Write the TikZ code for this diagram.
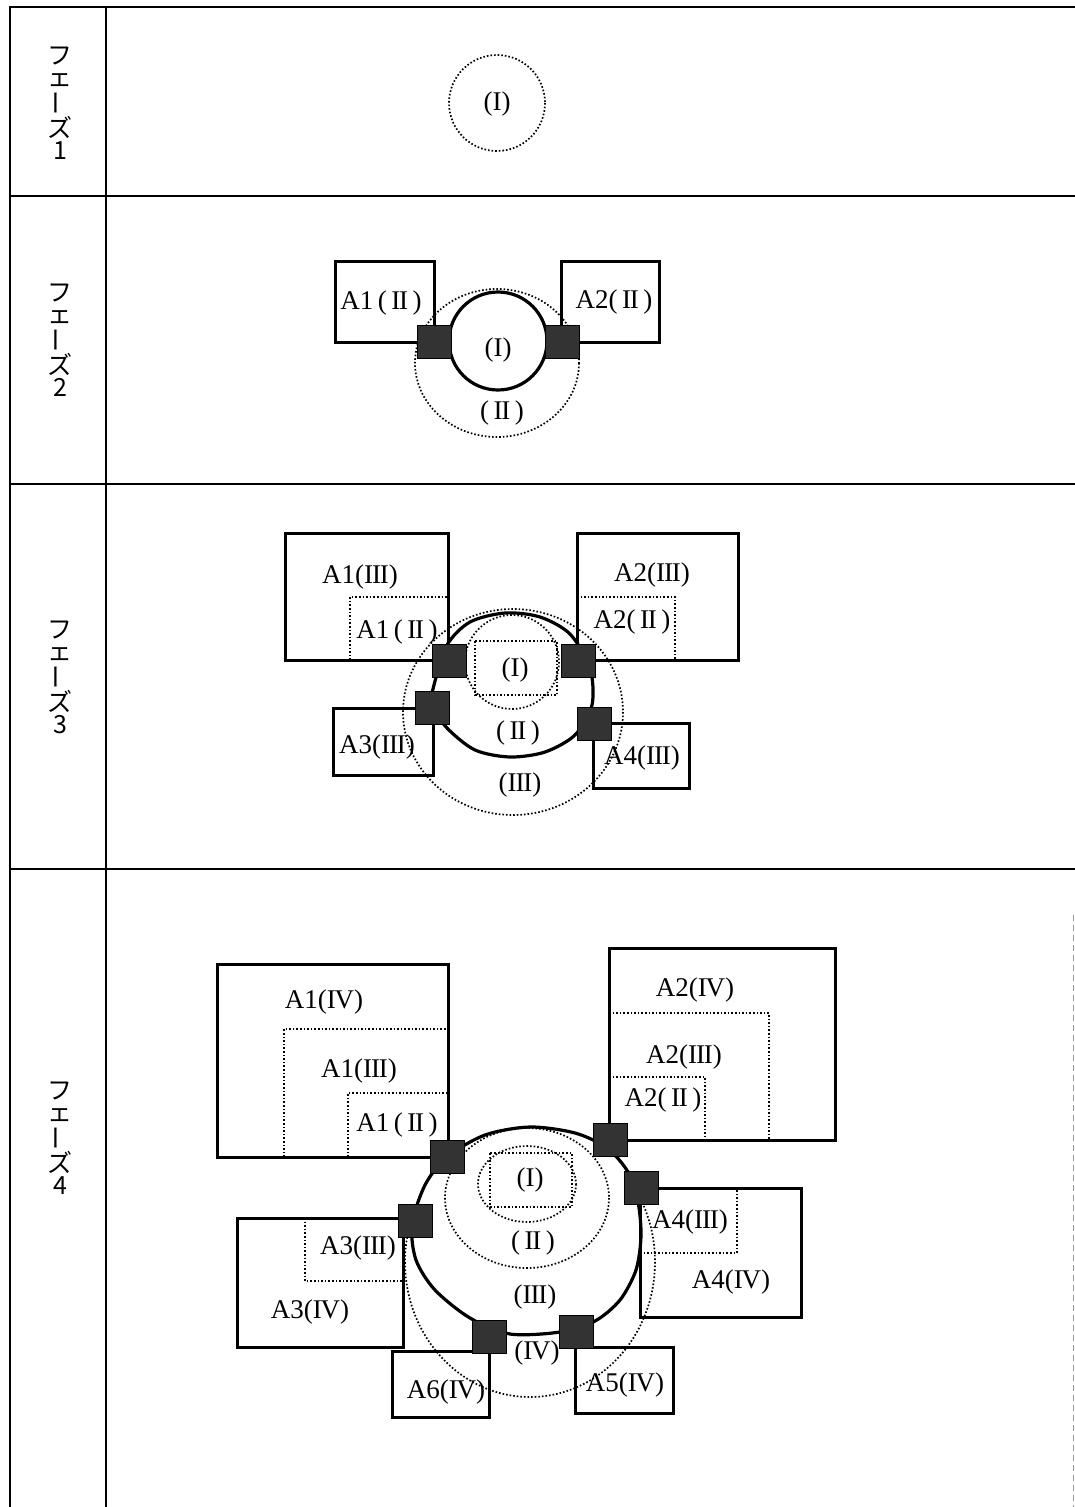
\documentclass[tikz,border=0pt]{standalone}
\usepackage{fontspec}
\setmainfont{Liberation Serif}
\newfontfamily\cjk{Noto Sans CJK JP}
\newcommand\rI{I}
\newcommand\rII{I\kern-.04em I}
\newcommand\rIII{I\kern-.04em I\kern-.04em I}
\newcommand\rIV{I\kern-.05em V}
\newcommand\vbar{\rotatebox[origin=c]{90}{ー}}

\begin{document}
\begin{tikzpicture}[x=1pt,y=-1pt, every node/.style={inner sep=0pt}]
\tikzset{
  tablerule/.style={draw=black, line width=1.6pt},
  abox/.style={draw=black, line width=3pt},
  dotline/.style={draw=black, line width=1.7pt, dash pattern=on 1.6pt off 2pt},
  ring/.style={draw=black, line width=3.2pt, fill=white},
  joint/.style={draw=black, fill=black!80, line width=1pt, minimum width=34pt, minimum height=33pt},
  lbl/.style={font=\fontsize{27}{29}\selectfont},
  phase/.style={font=\cjk\fontsize{25}{22}\selectfont, align=center}
}
\useasboundingbox (0,0) rectangle (1075,1507);
\draw[tablerule] (10,1507) -- (10,7) -- (1075,7);
\draw[tablerule] (106,7) -- (106,1507);
\foreach \yy in {196,484,869} \draw[tablerule] (10,\yy) -- (1075,\yy);
\draw[draw=black!40, line width=0.8pt, dash pattern=on 6pt off 4pt] (1073.5,915) -- (1073.5,1507);
\node[phase] (ph1) at (60,103) {フ\\ェ\\\vbar\\ズ\\1};
\node[phase] (ph2) at (60,340) {フ\\ェ\\\vbar\\ズ\\2};
\node[phase] (ph3) at (60,677) {フ\\ェ\\\vbar\\ズ\\3};
\node[phase] (ph4) at (60,1138) {フ\\ェ\\\vbar\\ズ\\4};
% phase 1
\draw[dotline] (497,103) circle[radius=48];
\node[lbl] (p1i) at (497,104) {(\rI)};
% phase 2
\draw[dotline] (497,363) ellipse[x radius=82, y radius=74];
\draw[ring] (498,341) circle[radius=49];
\draw[abox] (335,261) rectangle (434,342);
\draw[abox] (561,261) rectangle (659,342);
\node[joint] (p2jl) at (434,341.5) {};
\node[joint] (p2jr) at (562,341.5) {};
\node[lbl] (p2a1) at (381,303) {A1\,(\,\rII\,)};
\node[lbl] (p2a2) at (614,302) {A2(\,\rII\,)};
\node[lbl] (p2i) at (498,350) {(\rI)};
\node[lbl] (p2ii) at (502,413) {(\,\rII\,)};
% phase 3
\draw[dotline] (513,712) ellipse[x radius=110, y radius=103];
\draw[ring] plot[smooth cycle, tension=0.5] coordinates {(434,685) (447,645) (470,622) (505,613) (540,617) (570,634) (590,668) (592,705) (575,735) (545,752) (510,757) (475,750) (447,728) (432,705)};
\draw[dotline] (512,662) circle[radius=47];
\draw[dotline] (475,641) rectangle (557,695);
\draw[abox] (285,533) rectangle (448,660);
\draw[dotline] (350,660) |- (448,597);
\draw[abox] (577,533) rectangle (738,660);
\draw[dotline] (577,597) -| (675,660);
\draw[abox] (333,708) rectangle (433,775);
\draw[abox] (593,723) rectangle (689,788);
\node[joint] (p3j1) at (449,661) {};
\node[joint] (p3j2) at (578,661) {};
\node[joint] (p3j3) at (432,708) {};
\node[joint] (p3j4) at (594,724) {};
\node[lbl] (p3a1c) at (360,577) {A1(\rIII)};
\node[lbl] (p3a1b) at (397,632) {A1\,(\,\rII\,)};
\node[lbl] (p3a2c) at (652,575) {A2(\rIII)};
\node[lbl] (p3a2b) at (632,622) {A2(\,\rII\,)};
\node[lbl] (p3a3) at (377,747) {A3(\rIII)};
\node[lbl] (p3a4) at (642,758) {A4(\rIII)};
\node[lbl] (p3i) at (515,670) {(\rI)};
\node[lbl] (p3ii) at (518,733) {(\,\rII\,)};
\node[lbl] (p3iii) at (520,785) {(\rIII)};
% phase 4
\draw[dotline] (530,1262) ellipse[x radius=125, y radius=135];
\draw[ring] plot[smooth cycle, tension=0.5] coordinates {(412,1225) (425,1185) (447,1157) (485,1135) (530,1127) (575,1133) (607,1148) (628,1172) (638,1202) (641,1236) (636,1270) (620,1300) (595,1321) (560,1332) (510,1334) (470,1318) (435,1290) (416,1260)};
\draw[dotline] (527,1198) ellipse[x radius=82, y radius=70];
\draw[dotline] (527,1184) ellipse[x radius=49, y radius=38];
\draw[dotline] (490,1153) rectangle (572,1207);
\draw[abox] (217,964) rectangle (448,1157);
\draw[dotline] (284,1157) |- (448,1029);
\draw[dotline] (348,1157) |- (448,1093);
\draw[abox] (609,948) rectangle (835,1140);
\draw[dotline] (609,1013) -| (769,1140);
\draw[dotline] (609,1077) -| (705,1140);
\draw[abox] (237,1218) rectangle (403,1347);
\draw[dotline] (305,1218) |- (403,1281);
\draw[abox] (640,1188) rectangle (801,1317);
\draw[dotline] (640,1253) -| (737,1188);
\draw[abox] (392,1351) rectangle (489,1417);
\draw[abox] (575,1347) rectangle (673,1413);
\node[joint] (p4j1) at (447,1157) {};
\node[joint] (p4j2) at (610,1140) {};
\node[joint] (p4j3) at (415,1221) {};
\node[joint] (p4j4) at (641,1188) {};
\node[joint] (p4j5) at (576,1332) {};
\node[joint] (p4j6) at (489,1337) {};
\node[lbl] (p4a1d) at (324,1002) {A1(\rIV)};
\node[lbl] (p4a1c) at (359,1071) {A1(\rIII)};
\node[lbl] (p4a1b) at (397,1125) {A1\,(\,\rII\,)};
\node[lbl] (p4a2d) at (695,990) {A2(\rIV)};
\node[lbl] (p4a2c) at (684,1057) {A2(\rIII)};
\node[lbl] (p4a2b) at (663,1100) {A2(\,\rII\,)};
\node[lbl] (p4a3c) at (358,1248) {A3(\rIII)};
\node[lbl] (p4a3d) at (310,1312) {A3(\rIV)};
\node[lbl] (p4a4c) at (690,1222) {A4(\rIII)};
\node[lbl] (p4a4d) at (731,1282) {A4(\rIV)};
\node[lbl] (p4a6) at (446,1392) {A6(\rIV)};
\node[lbl] (p4a5) at (625,1385) {A5(\rIV)};
\node[lbl] (p4i) at (530,1180) {(\rI)};
\node[lbl] (p4ii) at (533,1243) {(\,\rII\,)};
\node[lbl] (p4iii) at (535,1297) {(\rIII)};
\node[lbl] (p4iv) at (537,1353) {(\rIV)};
\end{tikzpicture}
\end{document}
